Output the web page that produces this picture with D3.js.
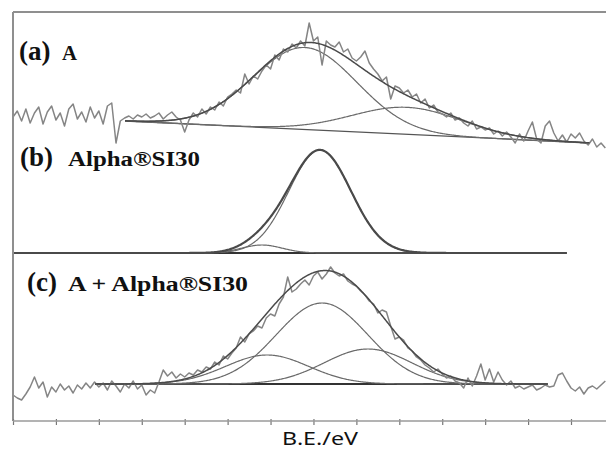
<!DOCTYPE html>
<html><head><meta charset="utf-8">
<script src="https://cdnjs.cloudflare.com/ajax/libs/d3/7.8.5/d3.min.js"></script>
<style>html,body{margin:0;padding:0;background:#fff;}svg{display:block;}</style>
</head><body>
<script>
// ---- data (x in tick units along B.E. axis; intensities in a.u. above each panel's baseline) ----
const ticks = d3.range(0, 14);               // unlabeled tick positions
const sampleStep = 0.1;                       // spacing of the raw spectra
const rawA = [4,10,0,12,-2,8,14,-3,9,15,1,8,-5,12,17,2,9,-1,14,3,10,-3,15,18,-22,
  0,3,5,2,6,4,7,3,5,8,2,6,9,4,1,-11,
  1,8,4,12,7,14,11,19,15,24,27,31,28,47,37,45,42,50,56,52,
  66,61,72,69,77,73,80,75,98,80,84,56,
  80,76,74,79,69,72,63,60,64,70,58,52,47,40,44,
  22,35,33,28,31,24,27,18,22,13,16,9,7,4,8,1,3,-2,-5,0,-8,-6,-9,-7,-13,-10,-15,-11,
  -16,-22,-13,-20,-10,-1,-18,-22,-5,0,-12,-20,-14,-21,-13,-17,-12,-20,-24,-18,-26,-22,-27];
const rawC = [-11,-14,-16,-10,-3,7,-4,2,-13,-3,-8,0,-6,-2,-9,-1,-5,1,-4,2,-3,
  1,-6,3,-2,-8,0,-4,3,-5,-1,
  -11,-6,-9,2,14,8,12,6,10,7,11,9,14,12,17,15,22,19,28,25,
  31,36,47,42,50,53,58,56,66,70,68,80,87,107,92,95,100,104,99,108,112,105,110,
  117,111,108,110,103,100,98,93,89,83,
  80,71,74,72,58,45,47,44,36,33,27,24,19,16,12,15,10,6,8,3,1,-4,
  6,-2,8,20,4,15,2,12,4,-1,3,-4,-2,-5,-3,-1,-6,-4,-1,-3,-2,9,11,3,-4,-7,-3,-10,-4,-2,-5,-1,3];
// fitted peaks: centre, height, sigma
const peakCentreA = [6.80, 9.18], peakHeightA = [82, 27], peakSigmaA = [1.21, 1.28];
const bgA = [[2.61, 0], [13.44, -22]];        // sloped background (start, end)
const peakCentreB = [7.15, 5.80], peakHeightB = [103, 8], peakSigmaB = [0.72, 0.47];
const bgB = [[0, 0], [12.9, 0]];
const peakCentreC = [7.20, 5.92, 8.27], peakHeightC = [81, 29, 35], peakSigmaC = [1.07, 0.97, 1.02];
const bgC = [[1.91, 0], [12.46, 0]];
const labels = [["(a)", "A"], ["(b)", "Alpha®SI30"], ["(c)", "A + Alpha®SI30"]];
const xTitle = "B.E./eV";

// ---- drawing ----
const W = 606, H = 452;
const svg = d3.select("body").append("svg").attr("width", W).attr("height", H);
const x = d3.scaleLinear().domain([0, 13]).range([13, 571]);
const yA = d3.scaleLinear().domain([0, 100]).range([121, 21]);
const yB = d3.scaleLinear().domain([0, 100]).range([253, 153]);
const yC = d3.scaleLinear().domain([0, 100]).range([384, 284]);

function bgAt(bg, u) { const t = (u - bg[0][0]) / (bg[1][0] - bg[0][0]); return bg[0][1] + t * (bg[1][1] - bg[0][1]); }
function gauss(c, h, s, u) { return h * Math.exp(-((u - c) ** 2) / (2 * s * s)); }

function drawPanel(y, raw, cs, hs, ss, bg, opts) {
  const g = svg.append("g");
  const us = d3.range(bg[0][0], bg[1][0] + 0.0001, 0.02);
  const line = d3.line().x(d => x(d[0])).y(d => y(d[1]));
  g.append("path").attr("d", line(bg)).attr("fill", "none")
    .attr("stroke", opts.bgColor).attr("stroke-width", opts.bgWidth);
  cs.forEach((c, k) => {
    const pts = us.map(u => [u, bgAt(bg, u) + gauss(c, hs[k], ss[k], u)]);
    g.append("path").attr("d", line(pts)).attr("fill", "none")
      .attr("stroke", "#6a6a6a").attr("stroke-width", 1.2);
  });
  if (raw) {
    const pts = raw.map((v, i) => [i * sampleStep, v]);
    g.append("path").attr("d", line(pts)).attr("fill", "none")
      .attr("stroke", "#858585").attr("stroke-width", 1.5).attr("stroke-linejoin", "round");
  }
  const env = us.map(u => [u, bgAt(bg, u) + cs.reduce((s, c, k) => s + gauss(c, hs[k], ss[k], u), 0)]);
  g.append("path").attr("d", line(env)).attr("fill", "none")
    .attr("stroke", "#4a4a4a").attr("stroke-width", opts.envWidth);
}

drawPanel(yA, rawA, peakCentreA, peakHeightA, peakSigmaA, bgA, {bgColor: "#555", bgWidth: 1.3, envWidth: 1.5});
drawPanel(yB, null, peakCentreB, peakHeightB, peakSigmaB, bgB, {bgColor: "#333", bgWidth: 2, envWidth: 2.2});
drawPanel(yC, rawC, peakCentreC, peakHeightC, peakSigmaC, bgC, {bgColor: "#333", bgWidth: 2, envWidth: 1.5});

// frame
svg.append("line").attr("x1", 13).attr("x2", W).attr("y1", 12).attr("y2", 12)
  .attr("stroke", "#8f8f8f").attr("stroke-width", 2);
svg.append("line").attr("x1", 13).attr("x2", 13).attr("y1", 12).attr("y2", 421)
  .attr("stroke", "#8f8f8f").attr("stroke-width", 2);
// bottom axis
const axis = d3.axisBottom(x).tickValues(ticks).tickSize(4).tickFormat("");
const ax = svg.append("g").attr("transform", "translate(0,421)").call(axis);
ax.select(".domain").remove();
ax.selectAll(".tick line").attr("stroke", "#777").attr("stroke-width", 1.2).attr("y1", -2);
svg.append("line").attr("x1", 13).attr("x2", W).attr("y1", 421).attr("y2", 421)
  .attr("stroke", "#9a9a9a").attr("stroke-width", 1.5);

// panel labels: [x, baseline, x of name, width of name]
const labelPos = [[19, 60, 62, 15], [20, 166, 68, 132], [27, 291, 68, 180]];
labels.forEach((lb, k) => {
  const t = svg.append("text").attr("x", labelPos[k][0]).attr("y", labelPos[k][1])
    .attr("font-family", "'Liberation Serif','Times New Roman',serif").attr("font-weight", "bold")
    .attr("fill", "#111");
  t.append("tspan").attr("font-size", 27).text(lb[0]);
  svg.append("text").attr("x", labelPos[k][2]).attr("y", labelPos[k][1])
    .attr("font-family", "'Liberation Serif','Times New Roman',serif").attr("font-weight", "bold")
    .attr("fill", "#111").attr("font-size", 20)
    .attr("textLength", labelPos[k][3]).attr("lengthAdjust", "spacingAndGlyphs").text(lb[1]);
});
svg.append("text").attr("x", 282).attr("y", 445)
  .attr("font-family", "'Noto Sans','Open Sans',sans-serif").attr("font-size", 18)
  .attr("textLength", 76).attr("lengthAdjust", "spacingAndGlyphs")
  .attr("fill", "#111").text(xTitle);
</script>
</body></html>
